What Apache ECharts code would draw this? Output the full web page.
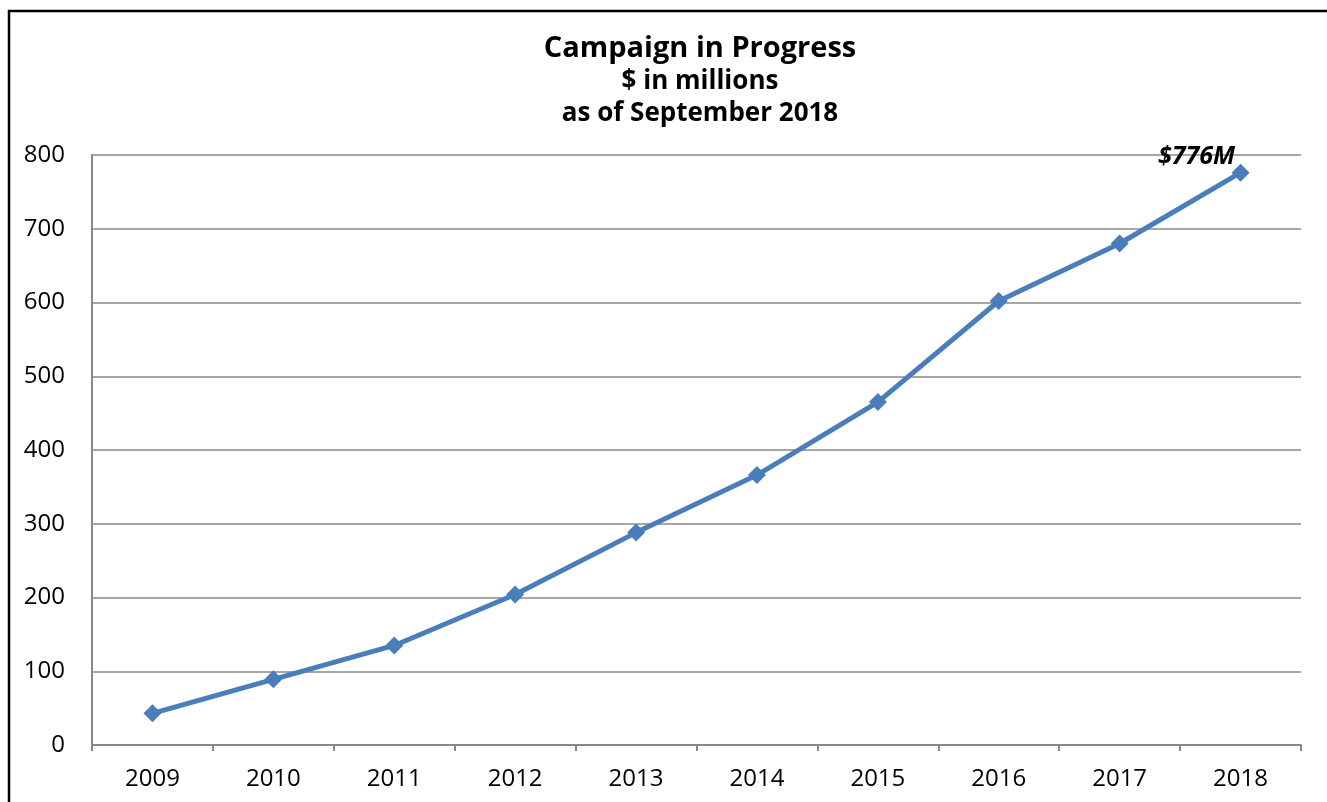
<!DOCTYPE html>
<html>
<head>
<meta charset="utf-8">
<script src="https://cdn.jsdelivr.net/npm/echarts@6/dist/echarts.min.js"></script>
<style>
  html, body { margin: 0; padding: 0; background: #fff; }
  #main { width: 1327px; height: 802px; }
</style>
</head>
<body>
<div id="main"></div>
<script>
var years = ['2009', '2010', '2011', '2012', '2013', '2014', '2015', '2016', '2017', '2018'];
var raised = [43, 89, 135, 204, 288, 366, 465, 602, 680, 776];
var lastLabel = '$776M';

var chart = echarts.init(document.getElementById('main'));
var font = "'Open Sans', 'Noto Sans', sans-serif";

var option = {
  backgroundColor: '#fff',
  animation: false,
  graphic: [{
    type: 'rect',
    shape: { x: 9, y: 11, width: 1330, height: 800 },
    style: { fill: 'none', stroke: '#000', lineWidth: 2.5 }
  }],
  title: {
    text: 'Campaign in Progress',
    subtext: '$ in millions\nas of September 2018',
    left: 695,
    textAlign: 'center',
    top: 27,
    itemGap: 0,
    textStyle: { fontFamily: font, fontSize: 29, fontWeight: 'bold', color: '#000', lineHeight: 34 },
    subtextStyle: { fontFamily: font, fontSize: 26, fontWeight: 'bold', color: '#000', lineHeight: 32 }
  },
  grid: { left: 92, right: 26, top: 155, bottom: 57 },
  xAxis: {
    type: 'category',
    data: years,
    boundaryGap: true,
    axisLine: { lineStyle: { color: '#888', width: 2 } },
    axisTick: { show: true, length: 6, lineStyle: { color: '#888', width: 2 } },
    axisLabel: { fontFamily: font, fontSize: 24, color: '#000', margin: 22 }
  },
  yAxis: {
    type: 'value',
    min: 0,
    max: 800,
    interval: 100,
    axisLine: { show: true, lineStyle: { color: '#888', width: 2 } },
    axisTick: { show: false },
    axisLabel: { fontFamily: font, fontSize: 24, color: '#000', margin: 27 },
    splitLine: { lineStyle: { color: '#888', width: 1.5 } }
  },
  series: [{
    type: 'line',
    data: raised.map(function (v, i) {
      if (i === raised.length - 1) {
        return {
          value: v,
          label: {
            show: true,
            formatter: lastLabel,
            position: 'top',
            offset: [-44, 11],
            fontFamily: font,
            fontSize: 25,
            fontWeight: 'bold',
            fontStyle: 'italic',
            color: '#000'
          }
        };
      }
      return v;
    }),
    symbol: 'diamond',
    symbolSize: 18,
    lineStyle: { color: '#4a7ebb', width: 5 },
    itemStyle: { color: '#4a7ebb' }
  }]
};
chart.setOption(option);
</script>
</body>
</html>
